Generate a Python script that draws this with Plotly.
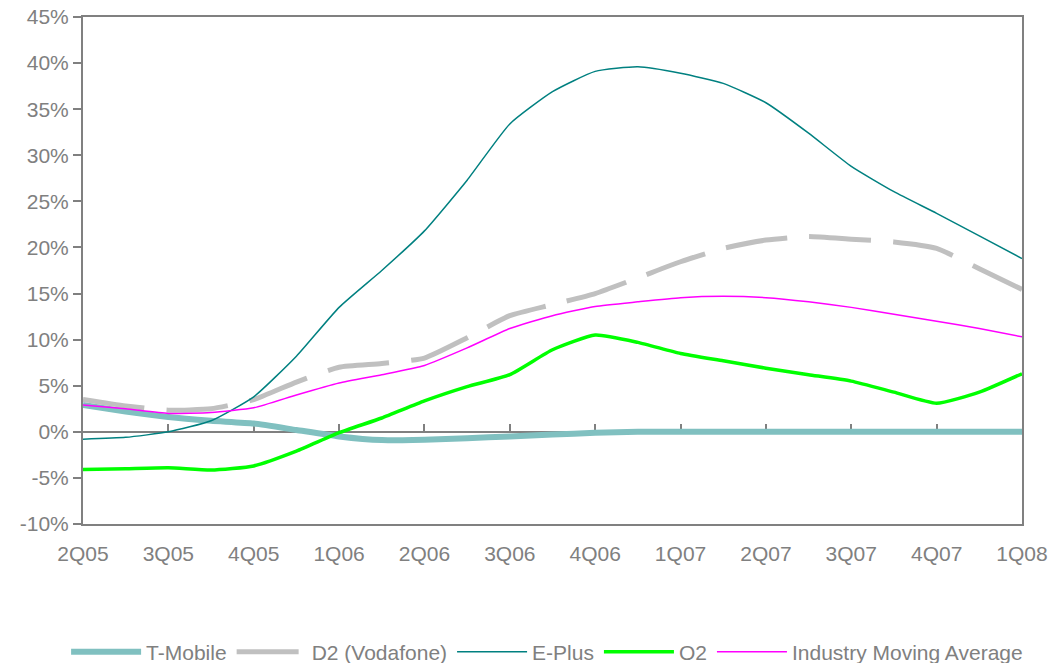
import plotly.graph_objects as go

quarters = ["2Q05", "3Q05", "4Q05", "1Q06", "2Q06", "3Q06", "4Q06",
            "1Q07", "2Q07", "3Q07", "4Q07", "1Q08"]
quarter_index = [0, 1, 2, 3, 4, 5, 6, 7, 8, 9, 10, 11]

# sample points every half quarter (index in quarters)
period = [0, 0.5, 1, 1.5, 2, 2.5, 3, 3.5, 4, 4.5, 5, 5.5, 6, 6.5,
          7, 7.5, 8, 8.5, 9, 9.5, 10, 10.5, 11]

t_mobile = [2.9, 2.2, 1.6, 1.2, 0.9, 0.2, -0.5, -0.9, -0.85, -0.7, -0.5, -0.3,
            -0.1, 0.0, 0.0, 0.0, 0.0, 0.0, 0.0, 0.0, 0.0, 0.0, 0.0]
d2_vodafone = [3.5, 2.8, 2.35, 2.5, 3.5, 5.4, 7.0, 7.4, 8.0, 10.2, 12.6, 13.8,
               15.0, 16.7, 18.45, 19.9, 20.8, 21.2, 20.9, 20.6, 19.9, 17.7, 15.45]
e_plus = [-0.8, -0.6, 0.0, 1.2, 3.8, 8.2, 13.5, 17.5, 21.8, 27.3, 33.4, 36.9,
          39.1, 39.6, 38.9, 37.8, 35.7, 32.4, 28.8, 26.05, 23.7, 21.25, 18.8]
o2 = [-4.1, -4.0, -3.9, -4.15, -3.7, -2.1, -0.1, 1.5, 3.35, 4.9, 6.2, 8.9,
      10.5, 9.7, 8.5, 7.7, 6.9, 6.2, 5.5, 4.3, 3.1, 4.3, 6.3]
industry_avg = [2.9, 2.5, 2.0, 2.1, 2.6, 4.0, 5.3, 6.2, 7.2, 9.1, 11.2, 12.6,
                13.6, 14.1, 14.55, 14.7, 14.55, 14.1, 13.5, 12.75, 12.0, 11.2, 10.3]

y_ticks = [-10, -5, 0, 5, 10, 15, 20, 25, 30, 35, 40, 45]
y_labels = ["-10%", "-5%", "0%", "5%", "10%", "15%", "20%", "25%", "30%",
            "35%", "40%", "45%"]

FONT = "Liberation Sans, Arial, sans-serif"
GREY = "#808080"
SMOOTH = 0.5

fig = go.Figure()

# dummy trace so the zero-crossing category axis is drawn
fig.add_trace(go.Scatter(x=[quarter_index[0]], y=[None], xaxis="x2",
                         showlegend=False, hoverinfo="skip"))

fig.add_trace(go.Scatter(x=period, y=t_mobile, name="T-Mobile", mode="lines",
                         line=dict(color="#80C0C0", width=6, shape="spline",
                                   smoothing=SMOOTH)))
fig.add_trace(go.Scatter(x=period, y=d2_vodafone, name="D2 (Vodafone)", mode="lines",
                         line=dict(color="#C0C0C0", width=5, dash="62px,22px",
                                   shape="spline", smoothing=SMOOTH)))
fig.add_trace(go.Scatter(x=period, y=e_plus, name="E-Plus", mode="lines",
                         line=dict(color="#008080", width=1.5, shape="spline",
                                   smoothing=SMOOTH)))
fig.add_trace(go.Scatter(x=period, y=o2, name="O2", mode="lines",
                         line=dict(color="#00FF00", width=3.5, shape="spline",
                                   smoothing=SMOOTH)))
fig.add_trace(go.Scatter(x=period, y=industry_avg, name="Industry Moving Average",
                         mode="lines", line=dict(color="#FF00FF", width=1.5,
                                                 shape="spline", smoothing=SMOOTH)))

fig.update_layout(
    width=1063, height=663,
    margin=dict(l=83, r=41, t=17, b=139, autoexpand=False),
    paper_bgcolor="white", plot_bgcolor="white",
    font=dict(family=FONT, size=21, color=GREY),
    showlegend=True,
    legend=dict(orientation="h", x=-0.018, xanchor="left", y=-0.2525, yanchor="middle",
                font=dict(family=FONT, size=21, color=GREY), itemwidth=70,
                bgcolor="rgba(0,0,0,0)"),
    xaxis=dict(range=[0, 11], tickmode="array", tickvals=quarter_index, ticktext=quarters,
               showline=True, linecolor=GREY, linewidth=2, mirror=True,
               ticks="", showgrid=False, zeroline=False, ticklabelstandoff=10,
               tickfont=dict(family=FONT, size=21, color=GREY)),
    xaxis2=dict(range=[0, 11], overlaying="x", anchor="free", position=10 / 55,
                tickmode="array", tickvals=quarter_index, showticklabels=False,
                ticks="inside", ticklen=7, tickwidth=1.5, tickcolor=GREY,
                showline=True, linecolor=GREY, linewidth=1.5, showgrid=False,
                zeroline=False, layer="below traces"),
    yaxis=dict(range=[-10, 45], tickmode="array", tickvals=y_ticks, ticktext=y_labels,
               showline=True, linecolor=GREY, linewidth=2, mirror=True,
               ticks="outside", ticklen=8, tickwidth=1.5, tickcolor=GREY,
               showgrid=False, zeroline=False,
               tickfont=dict(family=FONT, size=21, color=GREY)),
)

fig.write_html("out.html", config={"displayModeBar": False},
               post_script="document.body.style.margin='0px';")
